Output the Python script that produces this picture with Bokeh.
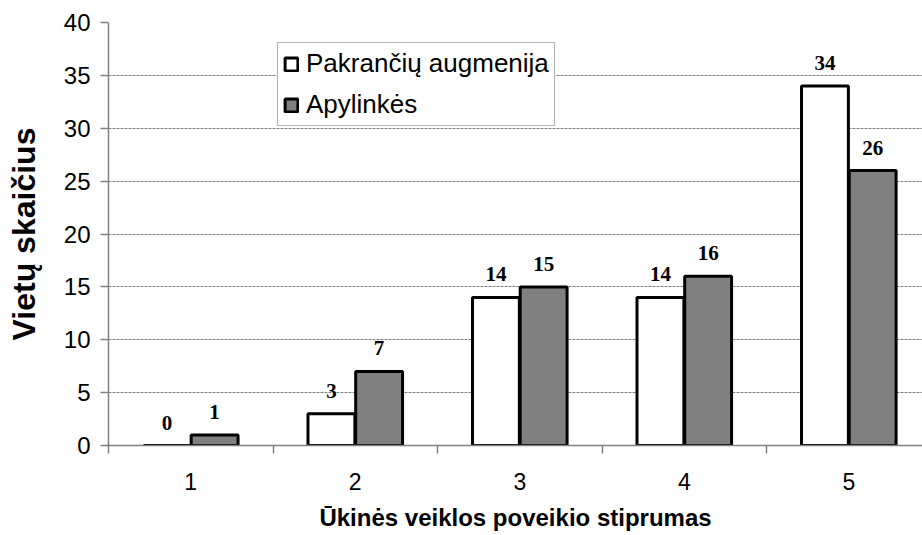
from bokeh.plotting import figure
from bokeh.models import ColumnDataSource, FixedTicker, Range1d, Legend, LegendItem, LabelSet
from bokeh.transform import dodge
from bokeh.embed import file_html
from bokeh.resources import INLINE

categories = [1, 2, 3, 4, 5]
pakranciu = [0, 3, 14, 14, 34]
apylinkes = [1, 7, 15, 16, 26]
y_ticks = [0, 5, 10, 15, 20, 25, 30, 35, 40]
x_tick_labels = ["1", "2", "3", "4", "5"]
series_names = ["Pakrančių augmenija", "Apylinkės"]

src = ColumnDataSource(dict(
    cat=categories,
    a=pakranciu,
    b=apylinkes,
    la=[str(v) for v in pakranciu],
    lb=[str(v) for v in apylinkes],
))

p = figure(width=922, height=533, output_backend="svg", toolbar_location=None,
           x_range=Range1d(0.5, 5.448), y_range=Range1d(0, 40),
           min_border_left=108, min_border_right=0, min_border_top=22, min_border_bottom=88)
p.outline_line_color = None
p.background_fill_color = "white"

OFF = 0.145
W = 0.285
ra = p.vbar(x=dodge("cat", -OFF, range=p.x_range), top="a", width=W, bottom=0, source=src,
            fill_color="white", line_color="black", line_width=3)
rb = p.vbar(x=dodge("cat", OFF, range=p.x_range), top="b", width=W, bottom=0, source=src,
            fill_color="#808080", line_color="black", line_width=3)

for col, lab, off in (("a", "la", -OFF), ("b", "lb", OFF)):
    ls = LabelSet(x=dodge("cat", off, range=p.x_range), y=col, text=lab, source=src,
                  text_align="center", text_baseline="alphabetic", y_offset=16,
                  text_font="Liberation Serif", text_font_style="bold",
                  text_font_size="21px", text_color="black")
    p.add_layout(ls)

# grid
p.xgrid.visible = False
p.ygrid.grid_line_color = "#808080"
p.ygrid.grid_line_dash = "3 1"
p.ygrid.grid_line_width = 1
p.ygrid.ticker = FixedTicker(ticks=y_ticks)

# y axis
p.yaxis.ticker = FixedTicker(ticks=y_ticks)
p.yaxis.axis_line_color = "#808080"
p.yaxis.axis_line_width = 1.5
p.yaxis.major_tick_line_color = "#808080"
p.yaxis.major_tick_line_width = 1.5
p.yaxis.major_tick_out = 8
p.yaxis.major_tick_in = 0
p.yaxis.minor_tick_line_color = None
p.yaxis.major_label_text_font = "Liberation Sans"
p.yaxis.major_label_text_font_size = "24px"
p.yaxis.major_label_text_color = "black"
p.yaxis.major_label_standoff = 10
p.yaxis.axis_label = "Vietų skaičius"
p.yaxis.axis_label_text_font = "Liberation Sans"
p.yaxis.axis_label_text_font_style = "bold"
p.yaxis.axis_label_text_font_size = "32px"
p.yaxis.axis_label_text_color = "black"
p.yaxis.axis_label_standoff = 19

# x axis
p.xaxis.ticker = FixedTicker(ticks=categories, minor_ticks=[0.5, 1.5, 2.5, 3.5, 4.5])
p.xaxis.major_label_overrides = {c: t for c, t in zip(categories, x_tick_labels)}
p.xaxis.axis_line_color = "#808080"
p.xaxis.axis_line_width = 1.5
p.xaxis.major_tick_line_color = None
p.xaxis.minor_tick_line_color = "#808080"
p.xaxis.minor_tick_line_width = 1.5
p.xaxis.minor_tick_out = 8
p.xaxis.minor_tick_in = 0
p.xaxis.major_label_text_font = "Liberation Sans"
p.xaxis.major_label_text_font_size = "23px"
p.xaxis.major_label_text_color = "black"
p.xaxis.major_label_standoff = 19
p.xaxis.axis_label = "Ūkinės veiklos poveikio stiprumas"
p.xaxis.axis_label_text_font = "Liberation Sans"
p.xaxis.axis_label_text_font_style = "bold"
p.xaxis.axis_label_text_font_size = "24px"
p.xaxis.axis_label_text_color = "black"
p.xaxis.axis_label_standoff = 11

legend = Legend(items=[LegendItem(label=series_names[0], renderers=[ra]),
                       LegendItem(label=series_names[1], renderers=[rb])],
                location=(169, 319))
legend.label_text_font = "Liberation Sans"
legend.label_text_font_size = "26px"
legend.label_text_color = "black"
legend.glyph_width = 16
legend.glyph_height = 16
legend.label_standoff = 7
legend.padding = 5
legend.spacing = 10
legend.margin = 0
legend.border_line_color = "#666666"
legend.border_line_width = 1
legend.background_fill_color = "white"
legend.background_fill_alpha = 1
p.add_layout(legend)

open("out.html", "w").write(file_html(p, INLINE))
